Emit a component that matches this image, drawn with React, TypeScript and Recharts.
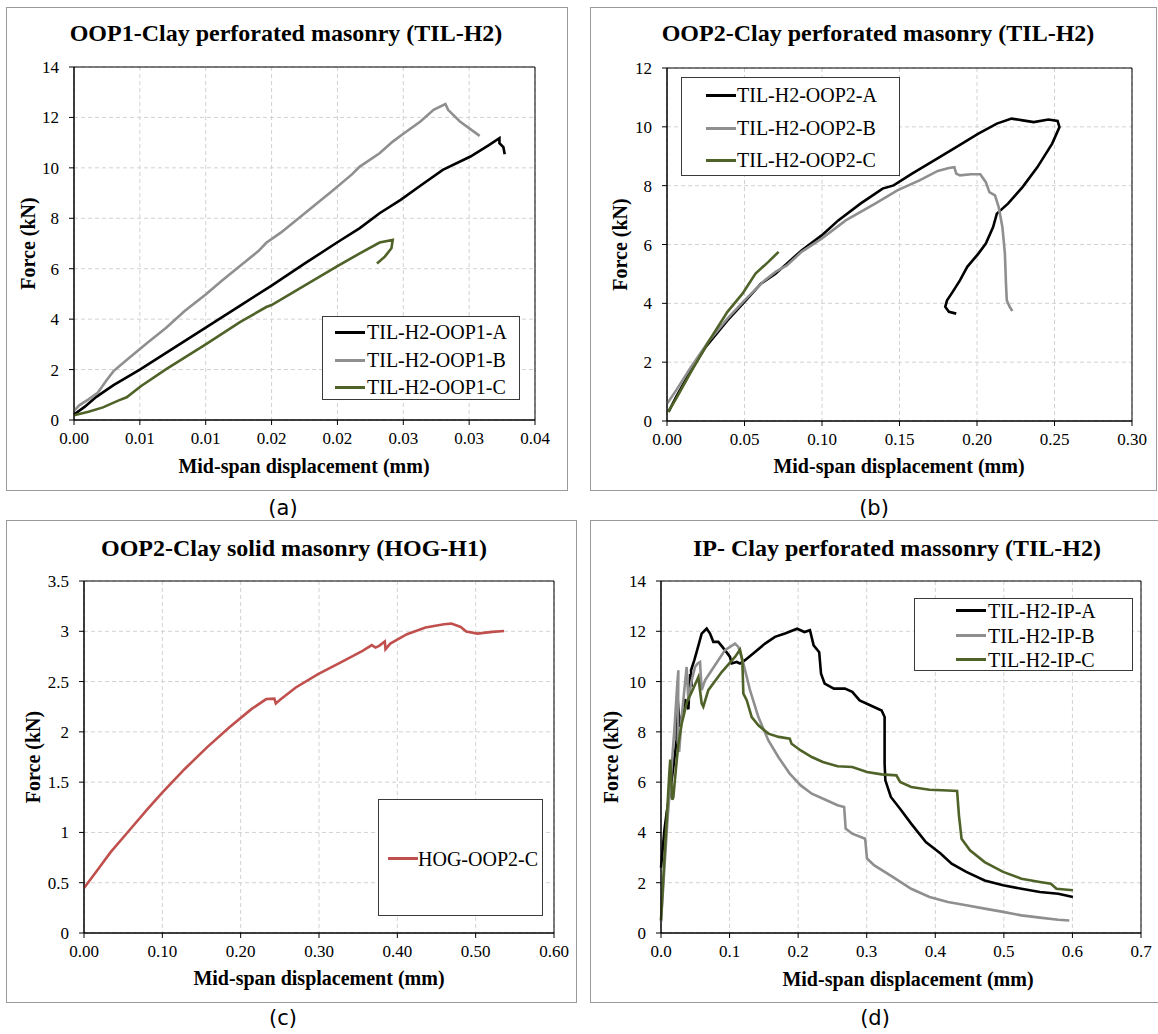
import { LineChart, Line, XAxis, YAxis, CartesianGrid, Legend, ReferenceArea } from 'recharts'

type Pt = [number, number]

// ---- (a) OOP1 perforated ----
const oop1XTicks = [0, 0.005, 0.01, 0.015, 0.02, 0.025, 0.03, 0.035]
const oop1XLabels = ['0.00', '0.01', '0.01', '0.02', '0.02', '0.03', '0.03', '0.04']
const force14Ticks = [0, 2, 4, 6, 8, 10, 12, 14]
const force14Labels = ['0', '2', '4', '6', '8', '10', '12', '14']
const oop1A: Pt[] = [
  [0, 0.22], [0.0008, 0.52], [0.0017, 0.92], [0.003, 1.38], [0.005, 2.0], [0.0075, 2.83], [0.01, 3.66],
  [0.0125, 4.5], [0.015, 5.33], [0.0175, 6.2], [0.02, 7.05], [0.0217, 7.61], [0.0232, 8.2], [0.0248, 8.73],
  [0.0264, 9.33], [0.028, 9.92], [0.0301, 10.45], [0.0315, 10.9], [0.0323, 11.18], [0.0323, 10.98],
  [0.0326, 10.82], [0.0327, 10.54],
]
const oop1B: Pt[] = [
  [0, 0.36], [0.0004, 0.58], [0.0011, 0.82], [0.0018, 1.08], [0.0025, 1.6], [0.003, 1.94], [0.0042, 2.47],
  [0.0056, 3.07], [0.007, 3.66], [0.0084, 4.32], [0.01, 4.98], [0.0112, 5.51], [0.0126, 6.11], [0.014, 6.7],
  [0.0146, 7.03], [0.0157, 7.43], [0.0168, 7.89], [0.0182, 8.49], [0.0196, 9.08], [0.0211, 9.74],
  [0.0217, 10.05], [0.0232, 10.58], [0.0242, 11.04], [0.0249, 11.31], [0.0263, 11.84], [0.0273, 12.3],
  [0.0282, 12.53], [0.0284, 12.3], [0.0293, 11.84], [0.0308, 11.27],
]
const oop1C: Pt[] = [
  [0, 0.19], [0.0011, 0.33], [0.0022, 0.5], [0.0034, 0.78], [0.004, 0.9], [0.0051, 1.35], [0.007, 2.02],
  [0.01, 3.0], [0.0126, 3.88], [0.0146, 4.48], [0.015, 4.56], [0.0174, 5.3], [0.02, 6.1], [0.0217, 6.61],
  [0.0232, 7.04], [0.0242, 7.14], [0.0241, 6.81], [0.0236, 6.48], [0.023, 6.21],
]

// ---- (b) OOP2 perforated ----
const oop2XTicks = [0, 0.05, 0.1, 0.15, 0.2, 0.25, 0.3]
const oop2XLabels = ['0.00', '0.05', '0.10', '0.15', '0.20', '0.25', '0.30']
const force12Ticks = [0, 2, 4, 6, 8, 10, 12]
const force12Labels = ['0', '2', '4', '6', '8', '10', '12']
const oop2A: Pt[] = [
  [0.001, 0.31], [0.0059, 0.82], [0.0155, 1.72], [0.025, 2.52], [0.039, 3.42], [0.05, 4.05], [0.0606, 4.67],
  [0.07, 5.01], [0.0773, 5.35], [0.0868, 5.8], [0.0998, 6.31], [0.1105, 6.82], [0.1248, 7.39], [0.1391, 7.9],
  [0.1462, 8.01], [0.1581, 8.41], [0.1724, 8.86], [0.1866, 9.31], [0.2009, 9.77], [0.2128, 10.11],
  [0.2223, 10.28], [0.2295, 10.22], [0.2366, 10.16], [0.2461, 10.25], [0.252, 10.2], [0.2532, 9.99],
  [0.2485, 9.43], [0.239, 8.63], [0.2295, 7.96], [0.22, 7.39], [0.2128, 7.05], [0.2104, 6.59],
  [0.2057, 6.03], [0.2009, 5.69], [0.1937, 5.24], [0.189, 4.78], [0.1843, 4.39], [0.1807, 4.1],
  [0.1795, 3.88], [0.1819, 3.71], [0.1866, 3.65],
]
const oop2B: Pt[] = [
  [0, 0.59], [0.0059, 1.04], [0.0155, 1.84], [0.0273, 2.74], [0.039, 3.48], [0.05, 4.1], [0.063, 4.78],
  [0.07, 5.07], [0.0773, 5.29], [0.0868, 5.75], [0.0998, 6.2], [0.1153, 6.82], [0.1343, 7.39], [0.1486, 7.84],
  [0.1629, 8.18], [0.1747, 8.5], [0.1819, 8.6], [0.1854, 8.63], [0.1866, 8.41], [0.189, 8.35],
  [0.1961, 8.39], [0.2021, 8.39], [0.2057, 8.12], [0.208, 7.78], [0.2116, 7.67], [0.214, 7.27],
  [0.2164, 6.59], [0.218, 5.69], [0.2187, 4.67], [0.2192, 4.1], [0.2211, 3.88], [0.2228, 3.74],
]
const oop2C: Pt[] = [
  [0.0007, 0.31], [0.0059, 0.76], [0.0155, 1.67], [0.0273, 2.74], [0.039, 3.71], [0.0487, 4.33],
  [0.0571, 5.01], [0.0654, 5.41], [0.072, 5.75],
]

// ---- (c) OOP2 solid ----
const solidXTicks = [0, 0.1, 0.2, 0.3, 0.4, 0.5, 0.6]
const solidXLabels = ['0.00', '0.10', '0.20', '0.30', '0.40', '0.50', '0.60']
const force35Ticks = [0, 0.5, 1, 1.5, 2, 2.5, 3, 3.5]
const force35Labels = ['0', '0.5', '1', '1.5', '2', '2.5', '3', '3.5']
const hogC: Pt[] = [
  [0, 0.447], [0.0151, 0.605], [0.034, 0.804], [0.0577, 1.019], [0.0813, 1.234], [0.1002, 1.399],
  [0.1286, 1.631], [0.157, 1.846], [0.1853, 2.044], [0.2137, 2.226], [0.2326, 2.326], [0.243, 2.33],
  [0.2449, 2.283], [0.2515, 2.326], [0.2704, 2.441], [0.2988, 2.574], [0.3272, 2.689], [0.3556, 2.805],
  [0.3674, 2.862], [0.3721, 2.838], [0.3768, 2.855], [0.384, 2.898], [0.3849, 2.822], [0.391, 2.878],
  [0.4123, 2.971], [0.436, 3.037], [0.4596, 3.07], [0.469, 3.076], [0.4809, 3.043], [0.488, 2.997],
  [0.5022, 2.977], [0.521, 2.994], [0.5362, 3.003],
]

// ---- (d) IP perforated ----
const ipXTicks = [0, 0.1, 0.2, 0.3, 0.4, 0.5, 0.6, 0.7]
const ipXLabels = ['0.0', '0.1', '0.2', '0.3', '0.4', '0.5', '0.6', '0.7']
const ipA: Pt[] = [
  [0, 2.6], [0.005, 4.1], [0.0083, 4.8], [0.0131, 5.6], [0.018, 6.6], [0.0229, 7.7], [0.0241, 9.4],
  [0.0253, 8.9], [0.0277, 8.2], [0.0326, 8.9], [0.035, 9.3], [0.0399, 8.9], [0.0425, 10.3], [0.0447, 9.8],
  [0.0438, 10.45], [0.0486, 10.85], [0.052, 11.18], [0.0593, 11.91], [0.0666, 12.11], [0.0715, 11.91],
  [0.0763, 11.58], [0.0836, 11.58], [0.0933, 11.25], [0.1006, 10.98], [0.1031, 10.72], [0.1103, 10.78],
  [0.1152, 10.72], [0.1225, 10.85], [0.1371, 11.18], [0.1517, 11.51], [0.1662, 11.78], [0.1808, 11.91],
  [0.1985, 12.1], [0.2092, 11.97], [0.2172, 12.04], [0.2226, 11.44], [0.2307, 11.17], [0.2334, 10.31],
  [0.2387, 9.92], [0.2521, 9.72], [0.2682, 9.72], [0.2789, 9.59], [0.2897, 9.25], [0.3058, 9.05],
  [0.3218, 8.85], [0.3261, 8.59], [0.3261, 6.73], [0.3272, 6.07], [0.3352, 5.41], [0.3486, 4.94],
  [0.3648, 4.35], [0.3862, 3.62], [0.4077, 3.16], [0.4238, 2.76], [0.4452, 2.43], [0.472, 2.09],
  [0.4989, 1.9], [0.5257, 1.76], [0.5525, 1.63], [0.5793, 1.56], [0.6008, 1.43],
]
const ipB: Pt[] = [
  [0, 0.44], [0.005, 2.6], [0.01, 4.7], [0.015, 6.4], [0.02, 8.3], [0.0235, 9.8], [0.0253, 10.45],
  [0.0245, 7.6], [0.0265, 7.2], [0.0301, 8.59], [0.0374, 10.58], [0.0399, 9.26], [0.0447, 10.05],
  [0.0496, 10.58], [0.0535, 10.72], [0.0569, 10.78], [0.0593, 9.66], [0.0642, 10.05], [0.0787, 10.65],
  [0.0933, 11.25], [0.1079, 11.51], [0.1128, 11.38], [0.1201, 10.72], [0.1298, 9.66], [0.142, 8.59],
  [0.1566, 7.66], [0.1711, 7.0], [0.1877, 6.34], [0.2038, 5.87], [0.2199, 5.54], [0.2414, 5.28],
  [0.2575, 5.08], [0.2671, 5.01], [0.2693, 4.15], [0.2789, 3.95], [0.2977, 3.75], [0.3004, 2.96],
  [0.3111, 2.69], [0.3379, 2.23], [0.3648, 1.76], [0.3916, 1.43], [0.4184, 1.23], [0.4452, 1.1],
  [0.472, 0.97], [0.4989, 0.84], [0.5257, 0.7], [0.5525, 0.61], [0.5793, 0.53], [0.5954, 0.5],
]
const ipC: Pt[] = [
  [0, 0.5], [0.004, 2.5], [0.0083, 4.5], [0.012, 6.3], [0.0135, 6.9], [0.0165, 5.3], [0.018, 5.4],
  [0.022, 6.6], [0.0253, 7.5], [0.03, 8.3], [0.038, 9.2], [0.045, 9.6], [0.05, 9.9], [0.0545, 10.18],
  [0.0593, 9.13], [0.0617, 9.0], [0.069, 9.66], [0.0885, 10.38], [0.1079, 10.98], [0.1152, 11.27],
  [0.1186, 10.85], [0.1201, 9.52], [0.125, 9.26], [0.1323, 8.59], [0.142, 8.26], [0.1566, 7.93],
  [0.1717, 7.8], [0.1877, 7.73], [0.1904, 7.53], [0.2038, 7.26], [0.2199, 7.0], [0.236, 6.8],
  [0.2575, 6.63], [0.2789, 6.6], [0.3004, 6.4], [0.3218, 6.31], [0.3433, 6.27], [0.3487, 6.01],
  [0.3648, 5.81], [0.3916, 5.7], [0.4184, 5.67], [0.4318, 5.65], [0.4345, 4.68], [0.4383, 3.75],
  [0.4506, 3.29], [0.472, 2.82], [0.4989, 2.43], [0.5257, 2.16], [0.5525, 2.03], [0.5686, 1.96],
  [0.5767, 1.76], [0.6008, 1.7],
]

const BLACK = '#000000'
const GREY = '#8f8f8f'
const GREEN = '#4f6228'
const RED = '#c0504d'
const SERIF = 'Liberation Serif, Times New Roman, serif'
const SANS = 'DejaVu Sans, Verdana, sans-serif'

type Series = { name: string; color: string; points: Pt[] }
type Box = { x0: number; y0: number; x1: number; y1: number }
type LegendSpec = { left: number; top: number; width: number; height: number; rows: number[]; lineX: number; textX: number }

const YW = 60
const XH = 40
const MT = 10
const MR = 35

function Panel(props: {
  plot: Box
  xTicks: number[]
  xLabels: string[]
  yTicks: number[]
  yLabels: string[]
  series: Series[]
  legend: LegendSpec
}) {
  const { plot, xTicks, xLabels, yTicks, yLabels, series, legend } = props
  const width = plot.x1 - plot.x0 + YW + MR
  const height = plot.y1 - plot.y0 + MT + XH
  const left = plot.x0 - YW
  const top = plot.y0 - MT
  const xMax = xTicks[xTicks.length - 1]
  const yMax = yTicks[yTicks.length - 1]
  const tickStyle = { fill: '#000', fontSize: 17 }

  const renderLegend = () => (
    <div
      style={{
        position: 'relative',
        width: legend.width,
        height: legend.height,
        border: '1px solid #3a3a3a',
        background: '#fff',
        boxSizing: 'border-box',
      }}
    >
      {series.map((s, i) => (
        <div key={s.name} style={{ position: 'absolute', left: 0, top: legend.rows[i] - 12, height: 24, width: '100%' }}>
          <div style={{ position: 'absolute', left: legend.lineX, top: 10.5, width: 30, height: 3, background: s.color }} />
          <span
            style={{
              position: 'absolute',
              left: legend.textX,
              top: 0,
              lineHeight: '24px',
              fontSize: 20,
              fontFamily: SERIF,
              color: '#000',
              whiteSpace: 'nowrap',
            }}
          >
            {s.name}
          </span>
        </div>
      ))}
    </div>
  )

  return (
    <div style={{ position: 'absolute', left, top, fontFamily: SERIF }}>
      <LineChart width={width} height={height} margin={{ top: MT, right: MR, left: 0, bottom: 0 }}>
        <CartesianGrid stroke="#d2d2d2" strokeDasharray="4 3" />
        <XAxis
          type="number"
          dataKey="x"
          domain={[0, xMax]}
          ticks={xTicks}
          interval={0}
          height={XH}
          tickSize={5}
          tickMargin={7}
          stroke="#000"
          tick={tickStyle}
          tickFormatter={(v: number) => xLabels[xTicks.indexOf(v)]}
        />
        <YAxis
          type="number"
          domain={[0, yMax]}
          ticks={yTicks}
          interval={0}
          width={YW}
          tickSize={5}
          tickMargin={10}
          stroke="#000"
          tick={tickStyle}
          tickFormatter={(v: number) => yLabels[yTicks.indexOf(v)]}
        />
        <ReferenceArea x1={0} x2={xMax} y1={0} y2={yMax} fill="none" stroke="#000" strokeWidth={1} />
        {series.map((s) => (
          <Line
            key={s.name}
            name={s.name}
            data={s.points.map(([x, y]) => ({ x, y }))}
            dataKey="y"
            type="linear"
            stroke={s.color}
            strokeWidth={2.6}
            dot={false}
            isAnimationActive={false}
          />
        ))}
        <Legend
          layout="vertical"
          align="center"
          verticalAlign="middle"
          content={renderLegend}
          wrapperStyle={{ left: legend.left - left, top: legend.top - top, width: legend.width, height: legend.height }}
        />
      </LineChart>
    </div>
  )
}

const panels = [
  {
    title: 'OOP1-Clay perforated masonry (TIL-H2)',
    caption: '(a)',
    frame: { x0: 6, y0: 7, x1: 567, y1: 490 },
    plot: { x0: 74, y0: 67, x1: 535, y1: 420 },
    titleX: 286, titleY: 41, xLabelX: 304, xLabelY: 473, yLabelX: 28, captionX: 283, captionY: 508,
    xTicks: oop1XTicks, xLabels: oop1XLabels, yTicks: force14Ticks, yLabels: force14Labels,
    series: [
      { name: 'TIL-H2-OOP1-A', color: BLACK, points: oop1A },
      { name: 'TIL-H2-OOP1-B', color: GREY, points: oop1B },
      { name: 'TIL-H2-OOP1-C', color: GREEN, points: oop1C },
    ],
    legend: { left: 322, top: 316, width: 198, height: 84, rows: [15, 43, 70], lineX: 12, textX: 44 },
  },
  {
    title: 'OOP2-Clay perforated masonry (TIL-H2)',
    caption: '(b)',
    frame: { x0: 590, y0: 7, x1: 1156, y1: 490 },
    plot: { x0: 667, y0: 68, x1: 1132, y1: 421 },
    titleX: 878, titleY: 41, xLabelX: 899, xLabelY: 473, yLabelX: 620, captionX: 874, captionY: 508,
    xTicks: oop2XTicks, xLabels: oop2XLabels, yTicks: force12Ticks, yLabels: force12Labels,
    series: [
      { name: 'TIL-H2-OOP2-A', color: BLACK, points: oop2A },
      { name: 'TIL-H2-OOP2-B', color: GREY, points: oop2B },
      { name: 'TIL-H2-OOP2-C', color: GREEN, points: oop2C },
    ],
    legend: { left: 681, top: 77, width: 219, height: 99, rows: [17, 50, 82], lineX: 24, textX: 55 },
  },
  {
    title: 'OOP2-Clay solid masonry (HOG-H1)',
    caption: '(c)',
    frame: { x0: 6, y0: 520, x1: 576, y1: 1002 },
    plot: { x0: 84, y0: 581, x1: 554, y1: 933 },
    titleX: 294, titleY: 556, xLabelX: 319, xLabelY: 985, yLabelX: 33, captionX: 283, captionY: 1018,
    xTicks: solidXTicks, xLabels: solidXLabels, yTicks: force35Ticks, yLabels: force35Labels,
    series: [{ name: 'HOG-OOP2-C', color: RED, points: hogC }],
    legend: { left: 378, top: 799, width: 165, height: 117, rows: [58.5], lineX: 9, textX: 39 },
  },
  {
    title: 'IP- Clay perforated massonry (TIL-H2)',
    caption: '(d)',
    frame: { x0: 590, y0: 520, x1: 1162, y1: 1002 },
    plot: { x0: 661, y0: 581, x1: 1141, y1: 933 },
    titleX: 897, titleY: 556, xLabelX: 908, xLabelY: 986, yLabelX: 611, captionX: 875, captionY: 1018,
    xTicks: ipXTicks, xLabels: ipXLabels, yTicks: force14Ticks, yLabels: force14Labels,
    series: [
      { name: 'TIL-H2-IP-A', color: BLACK, points: ipA },
      { name: 'TIL-H2-IP-B', color: GREY, points: ipB },
      { name: 'TIL-H2-IP-C', color: GREEN, points: ipC },
    ],
    legend: { left: 914, top: 598, width: 219, height: 73, rows: [11.5, 36.5, 60.5], lineX: 41, textX: 73 },
  },
]

export default function App() {
  return (
    <div
      style={{
        position: 'absolute',
        left: 0,
        top: 0,
        width: 1158,
        height: 1034,
        background: '#fff',
        overflow: 'hidden',
        fontFamily: SERIF,
      }}
    >
      <svg width={1158} height={1034} style={{ position: 'absolute', left: 0, top: 0 }}>
        {panels.map((p) => {
          const cy = (p.plot.y0 + p.plot.y1) / 2
          return (
            <g key={p.caption}>
              <rect
                x={p.frame.x0 + 0.5}
                y={p.frame.y0 + 0.5}
                width={p.frame.x1 - p.frame.x0}
                height={p.frame.y1 - p.frame.y0}
                fill="none"
                stroke="#9a9a9a"
                strokeWidth={1}
              />
              <text x={p.titleX} y={p.titleY} textAnchor="middle" style={{ fontFamily: SERIF, fontWeight: 'bold', fontSize: 24 }} fill="#000">
                {p.title}
              </text>
              <text x={p.xLabelX} y={p.xLabelY} textAnchor="middle" style={{ fontFamily: SERIF, fontWeight: 'bold', fontSize: 20 }} fill="#000">
                Mid-span displacement (mm)
              </text>
              <text
                x={p.yLabelX}
                y={cy}
                textAnchor="middle"
                dominantBaseline="central"
                transform={`rotate(-90 ${p.yLabelX} ${cy})`}
                style={{ fontFamily: SERIF, fontWeight: 'bold', fontSize: 20 }}
                fill="#000"
              >
                Force (kN)
              </text>
              <text
                x={p.captionX}
                y={p.captionY}
                textAnchor="middle"
                dominantBaseline="central"
                style={{ fontFamily: SANS, fontSize: 21 }}
                fill="#000"
              >
                {p.caption}
              </text>
            </g>
          )
        })}
      </svg>
      {panels.map((p) => (
        <Panel
          key={p.caption}
          plot={p.plot}
          xTicks={p.xTicks}
          xLabels={p.xLabels}
          yTicks={p.yTicks}
          yLabels={p.yLabels}
          series={p.series}
          legend={p.legend}
        />
      ))}
    </div>
  )
}
